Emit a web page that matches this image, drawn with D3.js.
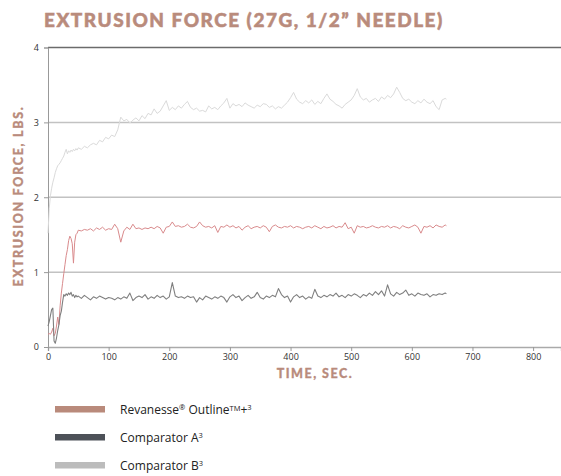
<!DOCTYPE html>
<html lang="en">
<head>
  <meta charset="UTF-8">
  <title>Extrusion Force</title>
  <script src="https://d3js.org/d3.v7.min.js"></script>
  <style>
    body { margin: 0; background: #fff; }
    svg { display: block; }
  </style>
</head>
<body>
  <script>
    // sample times (sec)
    const times = [
      0, 2, 4, 6, 8, 10, 12, 14, 16, 18, 20, 22, 24, 26, 28, 30, 32, 34, 36, 38, 40, 42, 44, 46, 48, 50,
      55, 60, 65, 70, 75, 80, 85, 90, 95, 100, 105, 110, 115, 120, 125, 130, 135, 140, 145, 150,
      155, 160, 165, 170, 175, 180, 185, 190, 195, 200, 205, 210, 215, 220, 225, 230, 235, 240, 245, 250,
      255, 260, 265, 270, 275, 280, 285, 290, 295, 300, 305, 310, 315, 320, 325, 330, 335, 340, 345, 350,
      355, 360, 365, 370, 375, 380, 385, 390, 395, 400, 405, 410, 415, 420, 425, 430, 435, 440, 445, 450,
      455, 460, 465, 470, 475, 480, 485, 490, 495, 500, 505, 510, 515, 520, 525, 530, 535, 540, 545, 550,
      555, 560, 565, 570, 575, 580, 585, 590, 595, 600, 605, 610, 615, 620, 625, 630, 635, 640, 645, 650,
      655, 657
    ];

    // Comparator B (lbs)
    const comparatorB = [
      1.52, 1.85, 2.02, 2.12, 2.20, 2.26, 2.33, 2.38, 2.42, 2.44, 2.46, 2.49, 2.52, 2.55, 2.60, 2.64, 2.58, 2.62, 2.60, 2.63, 2.61, 2.64, 2.62, 2.65, 2.63, 2.66,
      2.64, 2.68, 2.66, 2.70, 2.72, 2.70, 2.76, 2.74, 2.80, 2.78, 2.83, 2.81, 2.90, 3.07, 3.02, 3.04, 2.99, 3.03, 3.06, 3.02,
      3.09, 3.05, 3.12, 3.10, 3.18, 3.12, 3.15, 3.22, 3.29, 3.16, 3.20, 3.17, 3.22, 3.19, 3.24, 3.28, 3.20, 3.17, 3.19, 3.15,
      3.16, 3.14, 3.22, 3.18, 3.20, 3.17, 3.22, 3.26, 3.32, 3.19, 3.25, 3.22, 3.24, 3.21, 3.26, 3.23, 3.21, 3.19, 3.23, 3.21,
      3.25, 3.24, 3.20, 3.22, 3.18, 3.21, 3.19, 3.23, 3.27, 3.33, 3.40, 3.31, 3.27, 3.25, 3.29, 3.26, 3.30, 3.24, 3.28, 3.25,
      3.32, 3.38, 3.31, 3.28, 3.24, 3.22, 3.19, 3.24, 3.27, 3.30, 3.36, 3.45, 3.34, 3.30, 3.32, 3.27, 3.30, 3.32, 3.28, 3.34,
      3.31, 3.36, 3.33, 3.38, 3.47, 3.40, 3.32, 3.29, 3.31, 3.27, 3.25, 3.29, 3.26, 3.31, 3.27, 3.25, 3.29, 3.21, 3.17, 3.30,
      3.32, 3.31
    ];

    // Revanesse Outline+ (lbs)
    const revanesse = [
      0.17, 0.18, 0.17, 0.20, 0.25, 0.15, 0.18, 0.28, 0.40, 0.30, 0.55, 0.72, 0.85, 0.98, 1.10, 1.22, 1.30, 1.42, 1.48, 1.45, 1.38, 1.12, 1.40, 1.50, 1.52, 1.56,
      1.55, 1.57, 1.56, 1.58, 1.55, 1.59, 1.57, 1.60, 1.56, 1.58, 1.57, 1.64, 1.58, 1.40, 1.55, 1.60, 1.57, 1.64, 1.58, 1.59,
      1.57, 1.59, 1.58, 1.60, 1.58, 1.61, 1.59, 1.52, 1.60, 1.61, 1.67, 1.61, 1.62, 1.60, 1.61, 1.64, 1.60, 1.59, 1.61, 1.67,
      1.62, 1.60, 1.61, 1.59, 1.62, 1.53, 1.61, 1.60, 1.63, 1.60, 1.62, 1.59, 1.61, 1.56, 1.60, 1.62, 1.58, 1.60, 1.61, 1.59,
      1.62, 1.60, 1.54, 1.61, 1.63, 1.60, 1.59, 1.61, 1.60, 1.62, 1.59, 1.61, 1.60, 1.58, 1.60, 1.61, 1.59, 1.62, 1.60, 1.58,
      1.61, 1.59, 1.60, 1.62, 1.59, 1.61, 1.60, 1.66, 1.58, 1.60, 1.52, 1.62, 1.60, 1.61, 1.59, 1.60, 1.62, 1.60, 1.59, 1.61,
      1.60, 1.62, 1.59, 1.61, 1.60, 1.58, 1.62, 1.60, 1.59, 1.61, 1.63, 1.60, 1.52, 1.61, 1.60, 1.62, 1.59, 1.63, 1.61, 1.60,
      1.63, 1.62
    ];

    // Comparator A (lbs)
    const comparatorA = [
      0.28, 0.34, 0.42, 0.50, 0.52, 0.08, 0.05, 0.12, 0.22, 0.30, 0.42, 0.48, 0.60, 0.70, 0.68, 0.71, 0.69, 0.72, 0.70, 0.73, 0.68, 0.70, 0.66, 0.69, 0.67, 0.68,
      0.65, 0.69, 0.66, 0.63, 0.67, 0.65, 0.68, 0.66, 0.64, 0.66, 0.65, 0.63, 0.66, 0.64, 0.67, 0.65, 0.72, 0.62, 0.66, 0.68,
      0.66, 0.70, 0.64, 0.67, 0.65, 0.69, 0.66, 0.68, 0.64, 0.67, 0.86, 0.68, 0.66, 0.67, 0.65, 0.68, 0.66, 0.67, 0.60, 0.66,
      0.63, 0.68, 0.66, 0.64, 0.67, 0.65, 0.68, 0.66, 0.60, 0.67, 0.70, 0.66, 0.68, 0.62, 0.66, 0.69, 0.65, 0.67, 0.73, 0.66,
      0.64, 0.68, 0.66, 0.69, 0.67, 0.78, 0.70, 0.66, 0.68, 0.60, 0.67, 0.70, 0.66, 0.68, 0.64, 0.67, 0.65, 0.77, 0.68, 0.66,
      0.69, 0.67, 0.70, 0.68, 0.72, 0.67, 0.69, 0.66, 0.70, 0.68, 0.71, 0.69, 0.66, 0.70, 0.68, 0.72, 0.69, 0.74, 0.70, 0.75,
      0.68, 0.83, 0.71, 0.68, 0.73, 0.70, 0.72, 0.76, 0.69, 0.71, 0.68, 0.72, 0.70, 0.69, 0.71, 0.67, 0.70, 0.69, 0.71, 0.70,
      0.72, 0.71
    ];

    const xTicks = [0, 100, 200, 300, 400, 500, 600, 700, 800];
    const yTicks = [0, 1, 2, 3, 4];

    const series = [
      { name: "comparatorB", values: comparatorB, color: "#dadada", width: 1 },
      { name: "revanesse", values: revanesse, color: "#d98a8c", width: 1 },
      { name: "comparatorA", values: comparatorA, color: "#7f7f7f", width: 1.1 }
    ];

    const legend = [
      { color: "#b98a7b", parts: [["Revanesse", ""], ["®", "sup"], [" Outline", ""], ["TM", "tm"], ["+", ""], ["3", "sup"]] },
      { color: "#4d5158", parts: [["Comparator A", ""], ["3", "sup"]] },
      { color: "#bcbcbc", parts: [["Comparator B", ""], ["3", "sup"]] }
    ];

    const W = 561, H = 476;
    const x = d3.scaleLinear().domain([0, 846]).range([48, 561]);
    const y = d3.scaleLinear().domain([0, 4]).range([347, 47.5]);

    const svg = d3.select("body").append("svg")
      .attr("width", W).attr("height", H);

    const brand = "#b98b7c";

    // title
    svg.append("text")
      .attr("x", 44).attr("y", 26.5)
      .attr("font-family", "Lato").attr("font-weight", 900)
      .attr("font-size", 19).attr("letter-spacing", 1.5)
      .attr("fill", brand).attr("stroke", brand).attr("stroke-width", 0.5)
      .text("EXTRUSION FORCE (27G, 1/2\u201D NEEDLE)");

    // grid
    svg.append("g").selectAll("line")
      .data(yTicks.filter(d => d > 0 && d < 4))
      .join("line")
        .attr("x1", 48).attr("x2", W)
        .attr("y1", d => y(d)).attr("y2", d => y(d))
        .attr("stroke", "#c2c2c2").attr("stroke-width", 1.5);

    svg.append("line")
      .attr("x1", 48).attr("x2", W).attr("y1", y(4)).attr("y2", y(4))
      .attr("stroke", "#6b6b6b").attr("stroke-width", 1.3);

    // axes
    const yAxis = svg.append("g")
      .attr("transform", "translate(48,0)")
      .call(d3.axisLeft(y).tickValues(yTicks).tickSize(4).tickPadding(5).tickFormat(d3.format("d")));
    yAxis.select(".domain").attr("stroke", "#999");
    yAxis.selectAll(".tick line").attr("stroke", "#999");
    yAxis.selectAll("text").attr("font-family", "Open Sans").attr("font-size", 9).attr("fill", "#333");

    const xAxis = svg.append("g")
      .attr("transform", `translate(0,${y(0)})`)
      .call(d3.axisBottom(x).tickValues(xTicks).tickSize(4).tickPadding(3).tickFormat(d3.format("d")));
    xAxis.select(".domain").attr("stroke", "#aaa").attr("stroke-width", 1.3);
    xAxis.selectAll(".tick line").attr("stroke", "#999");
    xAxis.selectAll("text").attr("font-family", "Open Sans").attr("font-size", 9).attr("fill", "#333");

    // lines
    const line = d3.line()
      .x((d, i) => x(times[i]))
      .y(d => y(d));

    svg.append("g").selectAll("path")
      .data(series)
      .join("path")
        .attr("d", d => line(d.values))
        .attr("fill", "none")
        .attr("stroke", d => d.color)
        .attr("stroke-width", d => d.width)
        .attr("stroke-linejoin", "round");

    // axis titles
    svg.append("text")
      .attr("transform", "translate(23,196) rotate(-90)")
      .attr("text-anchor", "middle")
      .attr("font-family", "Lato").attr("font-weight", 900)
      .attr("font-size", 12.5).attr("letter-spacing", 1.7)
      .attr("fill", brand).attr("stroke", brand).attr("stroke-width", 0.3)
      .text("EXTRUSION FORCE, LBS.");

    svg.append("text")
      .attr("x", 315).attr("y", 378)
      .attr("text-anchor", "middle")
      .attr("font-family", "Lato").attr("font-weight", 900)
      .attr("font-size", 12.5).attr("letter-spacing", 1.5)
      .attr("fill", brand).attr("stroke", brand).attr("stroke-width", 0.3)
      .text("TIME, SEC.");

    // legend
    const lg = svg.append("g").selectAll("g")
      .data(legend)
      .join("g")
        .attr("transform", (d, i) => `translate(55,${409 + i * 28})`);

    lg.append("rect")
      .attr("x", 0).attr("y", -3).attr("width", 50).attr("height", 6.5)
      .attr("fill", d => d.color);

    const lt = lg.append("text")
      .attr("x", 65).attr("y", 5)
      .attr("font-family", "Open Sans").attr("font-size", 12)
      .attr("fill", "#222");

    lt.each(function (d) {
      const t = d3.select(this);
      d.parts.forEach(([s, kind]) => {
        const ts = t.append("tspan").text(s);
        if (kind === "sup") {
          ts.attr("font-size", 7.5).attr("baseline-shift", "55%");
        } else if (kind === "tm") {
          ts.attr("font-size", 7.5).attr("baseline-shift", "40%");
        }
      });
    });
  </script>
</body>
</html>
